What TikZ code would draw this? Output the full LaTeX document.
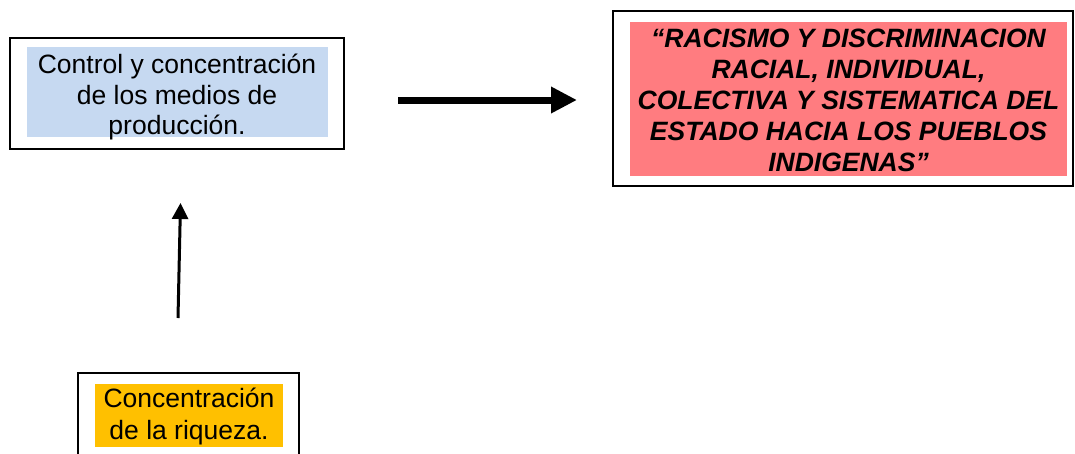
\documentclass[tikz,border=0pt]{standalone}
\usepackage{fontspec}
\setmainfont{Liberation Sans}
\usetikzlibrary{arrows.meta}
\definecolor{boxblue}{HTML}{C6D9F1}
\definecolor{boxred}{HTML}{FF7C80}
\definecolor{boxorange}{HTML}{FFC000}
\tikzset{
  frame/.style={draw=black, line width=1.6pt, fill=white, minimum width=#1},
  inner/.style={inner sep=0pt, align=center, font=\fontsize{26.5}{30.5}\selectfont},
}
\begin{document}
\begin{tikzpicture}[x=1pt,y=-1pt]
\useasboundingbox (0,0) rectangle (1075,453);
% box 1
\node[frame=334pt, minimum height=111pt] (f1) at (177,93.5) {};
\node[inner, fill=boxblue, minimum width=301pt, minimum height=90pt] (b1) at (177.5,92) {};
\node[inner] (t1) at (177,97)
  {Control y concentración\\de los medios de\\producción.};
% box 2
\node[frame=460pt, minimum height=175pt] (f2) at (843,98.5) {};
\node[inner, fill=boxred, minimum width=437pt, minimum height=154pt] (b2) at (848.5,99) {};
\node[inner, font=\fontsize{26.5}{31}\selectfont\bfseries\itshape] (t2) at (848.5,100.5)
  {“RACISMO Y DISCRIMINACION\\RACIAL, INDIVIDUAL,\\COLECTIVA Y SISTEMATICA DEL\\ESTADO HACIA LOS PUEBLOS\\INDIGENAS”};
% box 3
\node[frame=221pt, minimum height=87pt] (f3) at (188.5,416.5) {};
\node[inner, fill=boxorange, minimum width=188pt, minimum height=63pt] (b3) at (189,415.5) {};
\node[inner, font=\fontsize{26.5}{31.5}\selectfont] (t3) at (189,416.5)
  {Concentración\\de la riqueza.};
% arrows
\coordinate (a1s) at (398,100);
\coordinate (a1e) at (577,100);
\coordinate (a2s) at (178,318);
\coordinate (a2e) at (180.5,203);
\draw[line width=7pt, -{Triangle[length=26pt,width=25pt]}] (a1s) -- (a1e);
\draw[line width=3pt, -{Triangle[length=16pt,width=16pt]}] (a2s) -- (a2e);
\end{tikzpicture}
\end{document}
